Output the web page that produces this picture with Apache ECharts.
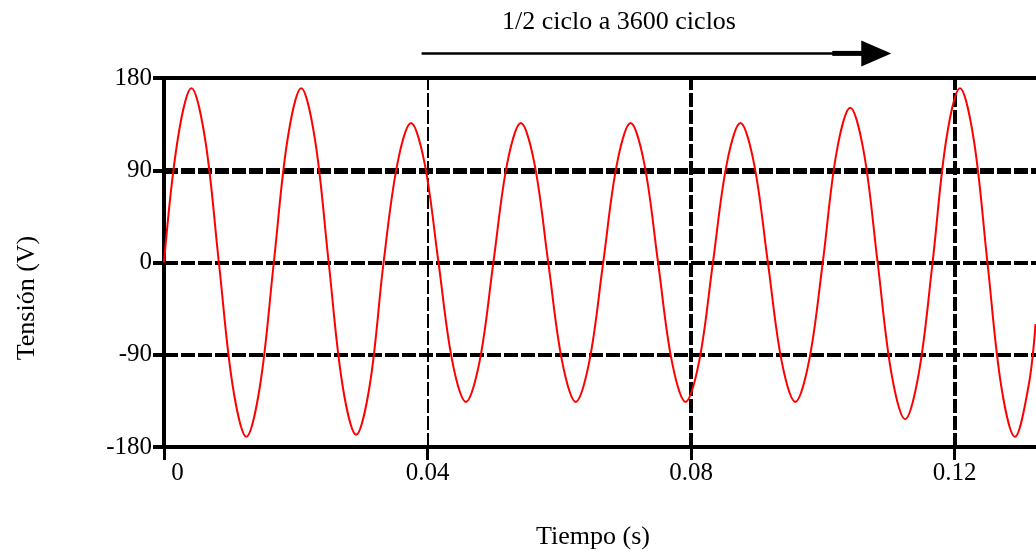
<!DOCTYPE html>
<html>
<head>
<meta charset="utf-8">
<script src="https://cdn.jsdelivr.net/npm/echarts@6/dist/echarts.min.js"></script>
<style>
html,body{margin:0;padding:0;background:#fff;}
#c{width:1036px;height:553px;}
</style>
</head>
<body>
<div id="c"></div>
<script>
// ---- data ----
var timeS = [0, 0.00208, 0.00417, 0.00625, 0.00833, 0.01042, 0.0125, 0.01458,
  0.01667, 0.01875, 0.02083, 0.02292, 0.025, 0.02708, 0.02917, 0.03125,
  0.03333, 0.03542, 0.0375, 0.03958, 0.04167, 0.04375, 0.04583, 0.04792,
  0.05, 0.05208, 0.05417, 0.05625, 0.05833, 0.06042, 0.0625, 0.06458,
  0.06667, 0.06875, 0.07083, 0.07292, 0.075, 0.07708, 0.07917, 0.08125,
  0.08333, 0.08542, 0.0875, 0.08958, 0.09167, 0.09375, 0.09583, 0.09792,
  0.1, 0.10208, 0.10417, 0.10625, 0.10833, 0.11042, 0.1125, 0.11458,
  0.11667, 0.11875, 0.12083, 0.12292, 0.125, 0.12708, 0.12917, 0.13125, 0.1323];
var voltageV = [0, 120, 170, 120, 0, -120, -170, -120,
  0, 120, 170, 120, 0, -119, -168, -119,
  0, 96, 136, 96, 0, -96, -136, -96,
  0, 96, 136, 96, 0, -96, -136, -96,
  0, 96, 136, 96, 0, -96, -136, -96,
  0, 96, 136, 96, 0, -96, -136, -96,
  0, 107, 151, 107, 0, -108, -153, -108,
  0, 120, 170, 120, 0, -120, -170, -120, -60];
var xTicks = [0, 0.04, 0.08, 0.12];
var yTicks = [-180, -90, 0, 90, 180];
var xMax = 0.13237;
var gridX = [0.04, 0.08, 0.12];
var gridY = [90, 0, -90];
var topBorderY = 180;
var arrowT = [0.0391, 0.1104];
var arrowV = 204;
var titleText = '1/2 ciclo a 3600 ciclos';
var xTitle = 'Tiempo (s)';
var yTitle = 'Tensión (V)';

var FONT = "'Liberation Serif', 'DejaVu Serif', serif";
var chart = echarts.init(document.getElementById('c'), null, {renderer: 'canvas'});

var seriesData = timeS.map(function (t, i) { return [t, voltageV[i]]; });

var gridLines = [];
gridLines.push({yAxis: topBorderY, lineStyle: {type: 'solid', width: 4, color: '#000'}});
gridY.forEach(function (v) {
  gridLines.push({yAxis: v, lineStyle: {type: [14, 3], width: v === 90 ? 6 : 4, color: '#000'}});
});
gridX.forEach(function (v) {
  gridLines.push({xAxis: v, lineStyle: {type: [14, 3], width: v === 0.04 ? 2 : 4, color: '#000'}});
});

var option = {
  animation: false,
  backgroundColor: '#fff',
  grid: {left: 164, right: 0, top: 78, bottom: 106, containLabel: false},
  xAxis: {
    type: 'value', min: 0, max: xMax, interval: 0.04,
    axisLine: {show: true, onZero: false, lineStyle: {color: '#000', width: 4}},
    axisTick: {show: true, length: 13, customValues: xTicks, lineStyle: {color: '#000', width: 3}},
    splitLine: {show: false},
    axisLabel: {
      show: true, margin: 14, color: '#000', fontFamily: FONT, fontSize: 25,
      customValues: xTicks, showMaxLabel: true, hideOverlap: false,
      formatter: function (v) { return v === 0 ? '{z|0}' : String(v); },
      rich: {z: {padding: [0, 0, 0, 27], fontFamily: FONT, fontSize: 25, color: '#000'}}
    }
  },
  yAxis: {
    type: 'value', min: -180, max: 180, interval: 90,
    axisLine: {show: true, onZero: false, lineStyle: {color: '#000', width: 4}},
    axisTick: {show: true, length: 11, customValues: yTicks, lineStyle: {color: '#000', width: 4}},
    splitLine: {show: false},
    axisLabel: {show: true, margin: 12, customValues: yTicks, color: '#000', fontFamily: FONT, fontSize: 25}
  },
  series: [
    {
      type: 'line', data: [], z: 1, silent: true,
      markLine: {
        z: 1, silent: true, symbol: ['none', 'none'], label: {show: false},
        animation: false, data: gridLines
      }
    },
    {
      type: 'line', data: seriesData, z: 3, smooth: 0.35, showSymbol: false,
      lineStyle: {color: '#ff0000', width: 2}, silent: true
    }
  ]
};
chart.setOption(option);

var p0 = chart.convertToPixel({gridIndex: 0}, [arrowT[0], arrowV]);
var p1 = chart.convertToPixel({gridIndex: 0}, [arrowT[1], arrowV]);
var headLen = 30, headHalf = 13;
chart.setOption({
  graphic: [
    {type: 'line', shape: {x1: p0[0], y1: p0[1], x2: p1[0] - headLen + 2, y2: p1[1]},
      style: {stroke: '#000', lineWidth: 2.5}},
    {type: 'line', shape: {x1: p1[0] - 59, y1: p1[1], x2: p1[0] - headLen + 2, y2: p1[1]},
      style: {stroke: '#000', lineWidth: 5}},
    {type: 'polygon', shape: {points: [[p1[0] - headLen, p1[1] - headHalf], [p1[0], p1[1]], [p1[0] - headLen, p1[1] + headHalf]]},
      style: {fill: '#000'}},
    {type: 'text', style: {text: titleText, font: '26px ' + FONT, fill: '#000',
      x: 0, y: 0, textAlign: 'center', textVerticalAlign: 'middle'}, x: 619, y: 22},
    {type: 'text', style: {text: xTitle, font: '26px ' + FONT, fill: '#000',
      x: 0, y: 0, textAlign: 'center', textVerticalAlign: 'middle'}, x: 593, y: 537},
    {type: 'text', style: {text: yTitle, font: '26px ' + FONT, fill: '#000',
      x: 0, y: 0, textAlign: 'center', textVerticalAlign: 'middle'}, x: 27, y: 298, rotation: Math.PI / 2}
  ]
});
</script>
</body>
</html>
